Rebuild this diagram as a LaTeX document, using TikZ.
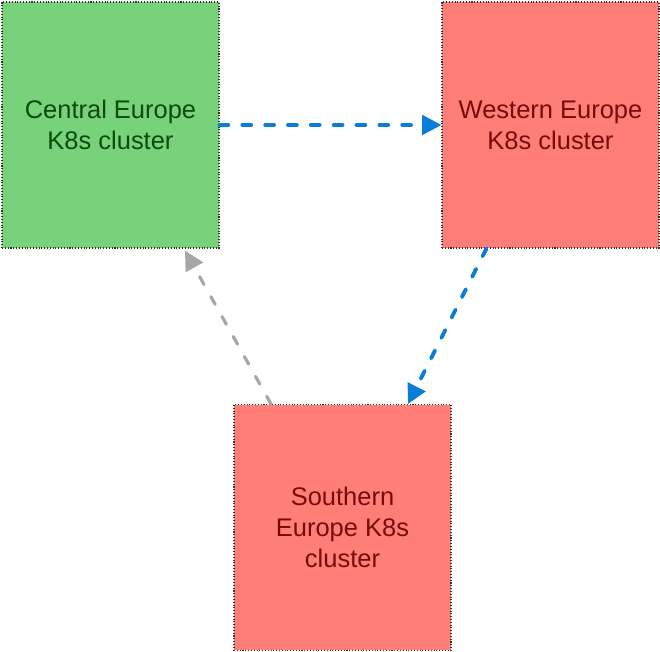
\documentclass[tikz,border=0pt]{standalone}
\usepackage{fontspec}
\setmainfont{Liberation Sans}
\usetikzlibrary{arrows.meta}
\definecolor{boxgreen}{HTML}{77D27A}
\definecolor{boxred}{HTML}{FF7F78}
\definecolor{txtgreen}{HTML}{0A4A0A}
\definecolor{txtred}{HTML}{7A0A0A}
\definecolor{flowblue}{HTML}{0A7DD8}
\definecolor{flowgray}{HTML}{A6A6A6}
\tikzset{
  cluster/.style={draw=black!80, densely dotted, line width=0.6pt, minimum width=4.34cm, minimum height=4.92cm, align=center, font=\fontsize{14.5pt}{17.6pt}\selectfont, inner sep=0pt},
  flow/.style={line width=2.2pt, dash pattern=on 5pt off 8pt, line cap=round, -{Triangle[length=11pt,width=11pt]}}
}
\begin{document}
\begin{tikzpicture}[x=0.02cm,y=-0.02cm]
    \useasboundingbox (0,0) rectangle (660,652);
    % clusters
    \node[cluster, fill=boxgreen, text=txtgreen] (central) at (110.5,125) {Central Europe\\K8s cluster};
    \node[cluster, fill=boxred, text=txtred] (western) at (550.5,125) {Western Europe\\K8s cluster};
    \node[cluster, fill=boxred, text=txtred] (southern) at (342.5,527.5) {Southern\\Europe K8s\\cluster};
    % migration paths
    \draw[flow, flowblue] (central.east) -- (western.west);
    \draw[flow, flowblue] ([xshift=0.9cm]western.south west) -- ([xshift=1.31cm]southern.north);
    \draw[flow, flowgray, line width=1.8pt] ([xshift=-1.43cm]southern.north) -- ([xshift=1.49cm,yshift=-0.04cm]central.south);
\end{tikzpicture}
\end{document}
